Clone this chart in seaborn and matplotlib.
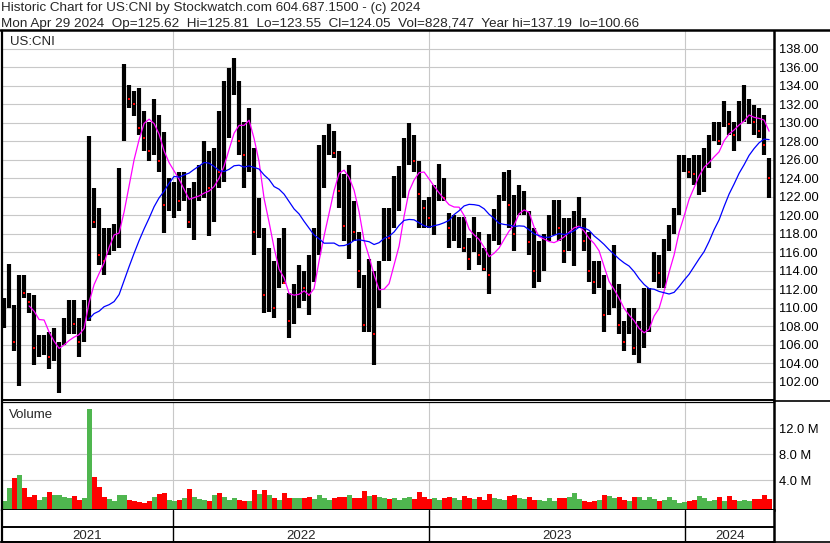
import numpy as np
import pandas as pd
import matplotlib
matplotlib.use("Agg")
import matplotlib.pyplot as plt
from matplotlib.lines import Line2D
import seaborn as sns

#**************************************#
        # data
#**************************************#
# one bar per week, US:CNI price in USD
high = [111.0, 114.7, 110.3, 113.5, 113.5, 111.6, 111.4, 107.0, 107.0, 107.4,
        107.8, 106.3, 108.9, 110.8, 110.8, 108.9, 110.8, 128.5, 122.9, 120.8,
        118.6, 118.6, 119.0, 125.1, 136.3, 134.1, 133.4, 133.7, 131.2, 130.1,
        132.5, 130.8, 129.0, 124.0, 123.6, 124.7, 124.7, 122.9, 123.6, 125.4,
        128.0, 126.9, 127.2, 131.3, 134.5, 135.9, 137.0, 134.5, 130.1, 131.6,
        127.2, 121.8, 118.6, 116.4, 115.0, 117.5, 118.6, 111.6, 112.5, 114.6,
        113.9, 115.7, 118.6, 127.6, 128.7, 129.8, 129.1, 126.9, 124.4, 125.4,
        121.5, 118.2, 113.5, 115.3, 113.9, 115.0, 120.8, 120.8, 124.2, 125.3,
        128.3, 129.9, 128.7, 125.8, 121.6, 122.0, 123.3, 125.5, 124.0, 120.2,
        120.0, 119.8, 119.8, 117.5, 119.8, 118.2, 116.4, 118.0, 120.6, 122.2,
        124.7, 124.9, 122.2, 123.3, 122.6, 120.4, 118.6, 117.2, 117.9, 120.0,
        121.6, 121.6, 119.7, 119.7, 120.4, 122.0, 119.7, 118.2, 115.0, 115.0,
        113.5, 111.9, 116.8, 112.5, 108.5, 109.9, 109.9, 108.5, 112.1, 112.1,
        116.0, 115.7, 117.4, 118.9, 120.8, 126.5, 126.5, 126.2, 126.5, 126.5,
        127.2, 128.7, 130.1, 130.1, 132.3, 131.2, 130.1, 132.3, 134.1, 132.6,
        131.9, 131.6, 130.8, 126.2]
low = [107.8, 110.0, 105.3, 101.5, 111.0, 109.4, 103.8, 104.6, 104.9, 103.3,
       104.2, 100.8, 106.0, 107.1, 107.1, 104.7, 106.3, 108.5, 118.6, 114.6,
       113.5, 115.7, 116.1, 116.4, 128.0, 131.6, 130.7, 128.7, 126.9, 125.8,
       126.5, 124.7, 118.1, 120.4, 119.7, 120.4, 121.5, 118.6, 117.3, 121.5,
       121.8, 117.7, 119.3, 122.9, 123.6, 128.3, 133.0, 126.5, 122.9, 124.7,
       115.7, 117.5, 109.4, 109.5, 108.9, 112.1, 112.5, 106.7, 108.2, 109.9,
       110.7, 109.2, 112.8, 115.7, 122.9, 126.5, 126.2, 120.8, 117.2, 115.3,
       117.2, 112.1, 107.4, 107.4, 103.8, 109.9, 115.0, 115.0, 118.6, 120.4,
       121.8, 125.4, 124.7, 118.6, 118.6, 118.6, 117.8, 121.5, 121.5, 116.4,
       117.2, 116.4, 116.0, 114.1, 116.0, 114.6, 113.9, 111.5, 117.2, 116.8,
       121.5, 118.6, 116.1, 120.0, 120.0, 115.7, 112.1, 112.8, 113.9, 117.2,
       117.8, 117.2, 114.8, 116.1, 114.5, 118.6, 116.1, 112.8, 111.5, 112.1,
       107.4, 109.2, 110.0, 107.1, 105.3, 107.1, 104.9, 104.0, 105.6, 107.4,
       112.8, 112.1, 112.1, 116.1, 117.9, 120.0, 124.7, 124.0, 123.3, 122.2,
       122.5, 125.1, 128.0, 127.6, 129.5, 128.7, 126.9, 128.0, 130.1, 129.8,
       128.7, 128.3, 126.5, 121.8]
close = [109.0, 111.0, 106.3, 112.5, 111.6, 110.6, 105.6, 105.6, 106.0, 104.7,
         105.6, 106.0, 107.8, 108.5, 108.2, 106.3, 109.6, 123.0, 119.3, 115.7,
         115.0, 116.4, 117.7, 124.2, 133.0, 132.6, 132.0, 129.4, 128.3, 126.9,
         130.1, 125.8, 121.1, 121.8, 122.9, 121.5, 123.6, 119.3, 122.2, 122.9,
         124.7, 122.9, 126.5, 124.7, 130.1, 133.7, 135.2, 128.0, 126.5, 128.0,
         118.2, 118.6, 111.4, 112.6, 109.9, 114.1, 112.6, 108.5, 110.3, 113.2,
         112.1, 111.4, 116.8, 126.5, 126.5, 128.0, 126.7, 122.6, 118.8, 121.8,
         118.2, 113.9, 108.1, 112.1, 107.1, 112.1, 118.6, 117.5, 120.4, 124.2,
         126.5, 128.3, 125.8, 122.3, 120.8, 119.7, 121.8, 124.0, 121.8, 118.6,
         119.3, 119.6, 116.4, 115.2, 118.0, 115.7, 114.2, 113.5, 118.6, 118.6,
         123.6, 121.1, 118.0, 120.9, 121.1, 117.1, 113.9, 115.0, 116.4, 119.3,
         120.4, 118.6, 116.1, 118.0, 119.3, 120.4, 117.2, 113.9, 112.8, 113.2,
         109.2, 110.6, 112.1, 108.1, 106.3, 108.8, 105.6, 105.6, 109.2, 110.3,
         115.0, 113.7, 116.8, 117.9, 120.4, 125.0, 125.4, 124.7, 124.4, 125.4,
         126.1, 128.0, 129.1, 128.0, 131.6, 129.8, 128.7, 131.2, 131.6, 132.0,
         130.1, 129.1, 127.6, 124.0]
# average daily volume per week, millions of shares
volume_m = [0.8, 2.8, 4.3, 4.8, 2.8, 1.4, 1.8, 0.9, 1.4, 2.2,
            1.8, 1.8, 1.4, 1.2, 1.6, 1.0, 1.2, 15.0, 4.5, 2.9,
            1.5, 1.1, 0.8, 1.8, 1.7, 1.0, 0.8, 0.6, 0.5, 0.8,
            1.4, 1.9, 2.1, 1.0, 0.8, 1.0, 1.2, 2.7, 1.5, 1.1,
            0.9, 0.8, 1.7, 2.1, 1.5, 1.0, 1.2, 1.0, 0.8, 0.8,
            2.5, 1.9, 2.5, 1.8, 1.3, 1.0, 2.0, 1.2, 1.3, 1.3,
            1.2, 1.4, 1.1, 1.8, 1.3, 1.0, 1.2, 1.5, 1.4, 1.7,
            1.2, 1.3, 2.3, 1.6, 1.8, 1.4, 1.2, 1.1, 1.3, 1.0,
            1.2, 1.4, 1.1, 2.2, 1.5, 1.1, 1.2, 1.0, 1.3, 1.4,
            1.2, 1.0, 1.6, 1.3, 1.1, 1.4, 1.0, 1.9, 1.2, 1.1,
            0.9, 1.6, 1.8, 1.3, 1.1, 1.4, 0.9, 1.0, 0.8, 1.3,
            0.8, 1.2, 1.2, 1.4, 2.0, 1.1, 0.8, 0.6, 0.8, 0.9,
            1.8, 1.6, 1.2, 1.4, 1.0, 0.8, 1.4, 1.4, 1.0, 1.4,
            1.1, 0.8, 0.9, 1.4, 1.0, 0.5, 0.6, 0.8, 0.9, 1.6,
            1.2, 0.8, 1.0, 1.4, 0.8, 1.6, 1.0, 0.8, 0.9, 0.8,
            1.1, 1.1, 1.7, 1.1]

first_day, last_day = "2021-05-06", "2024-04-29"
year_labels = ["2021", "2022", "2023", "2024"]
price_ticks = np.arange(102, 139, 2)
vol_ticks = [4, 8, 12]
vol_tick_labels = ["4.0 M", "8.0 M", "12.0 M"]

header1 = "Historic Chart for US:CNI by Stockwatch.com 604.687.1500 - (c) 2024"
header2 = ("Mon Apr 29 2024  Op=125.62  Hi=125.81  Lo=123.55  Cl=124.05  "
           "Vol=828,747  Year hi=137.19  lo=100.66")

#**************************************#
            # prepare frame
#**************************************#
df = pd.DataFrame({"High": high, "Low": low, "Close": close, "Volume": volume_m})
df["Date"] = pd.date_range(first_day, last_day, periods=len(df))
df["MA_short"] = df["Close"].rolling(6).mean()
df["MA_long"] = df["Close"].rolling(18).mean()
df["Up"] = df["Close"].diff().fillna(0) >= 0

sns.set_theme(style="white")
plt.rcParams["font.family"] = ["Liberation Sans", "DejaVu Sans"]
plt.rcParams["font.size"] = 9

W, H = 830, 543
fig = plt.figure(figsize=(W / 100, H / 100), dpi=100)
fig.patch.set_facecolor("white")

def px_axes(l, t, r, b):
    return fig.add_axes([l / W, 1 - b / H, (r - l) / W, (b - t) / H])

ax_p = px_axes(2, 31, 774, 400)
ax_v = px_axes(2, 402, 774, 510)
ax_s = px_axes(2, 510, 774, 542)

xmin = df["Date"].iloc[0] - pd.Timedelta(days=3)
xmax = df["Date"].iloc[-1] + pd.Timedelta(days=7)
year_starts = [pd.Timestamp(f"{y}-01-01") for y in year_labels[1:]]
grid_kw = dict(color="#c8c8c8", lw=0.8)

#------------------------- price panel -------------------------#
ax_p.vlines(df["Date"], df["Low"], df["High"], color="black", lw=3.0)
down = df[~df["Up"]]
ax_p.plot(down["Date"], down["Close"], "s", color="red", ms=1.6, mew=0)
sns.lineplot(data=df, x="Date", y="MA_short", color="#ff00ff", lw=0.9, ax=ax_p)
sns.lineplot(data=df, x="Date", y="MA_long", color="#0000ff", lw=0.9, ax=ax_p)
ax_p.set_ylim(100.0, 139.9)
ax_p.set_yticks(price_ticks)
ax_p.set_yticklabels([f"{t:.2f}" for t in price_ticks])
ax_p.text(8 / 772, 1 - 14 / 369, "US:CNI", transform=ax_p.transAxes, fontsize=9.5, va="baseline")

#------------------------- volume panel ------------------------#
vol_lo, vol_hi = -0.57, 16.05
ax_v.bar(df["Date"], df["Volume"] - vol_lo, bottom=vol_lo, width=7.1,
         color=np.where(df["Up"], "#4fb64f", "#ff0000"), linewidth=0)
ax_v.set_ylim(vol_lo, vol_hi)
ax_v.set_yticks(vol_ticks)
ax_v.set_yticklabels(vol_tick_labels)
ax_v.text(7 / 772, 1 - 16 / 108, "Volume", transform=ax_v.transAxes, fontsize=9.5, va="baseline")

for ax in (ax_p, ax_v):
    ax.set_xlim(xmin, xmax)
    ax.set_xticks(year_starts)
    ax.grid(True, **grid_kw)
    ax.set_axisbelow(True)
    ax.yaxis.tick_right()
    ax.tick_params(axis="y", length=0, pad=3.6, labelsize=9.3, labelcolor="black")
    ax.tick_params(axis="x", length=0, labelbottom=False)
    ax.set_xlabel("")
    ax.set_ylabel("")
    for s in ax.spines.values():
        s.set_color("black")
    ax.spines["left"].set_linewidth(1.6)
    ax.spines["right"].set_linewidth(1.8)
    ax.spines["bottom"].set_linewidth(1.4)
ax_p.spines["top"].set_visible(False)
ax_v.spines["top"].set_linewidth(0.9)

#------------------------- year strip --------------------------#
ax_s.set_xlim(xmin, xmax)
ax_s.set_ylim(0, 1)
ax_s.axhline(15 / 32, color="black", lw=1.4)
for d in year_starts:
    ax_s.axvline(d, color="black", lw=1.0)
edges = [xmin] + year_starts + [xmax]
for lab, a, b in zip(year_labels, edges[:-1], edges[1:]):
    ax_s.text(a + (b - a) / 2, 3 / 32, lab, ha="center", va="baseline", fontsize=9.5)
ax_s.set_xticks([])
ax_s.set_yticks([])
for s in ax_s.spines.values():
    s.set_color("black")
ax_s.spines["top"].set_visible(False)
ax_s.spines["left"].set_linewidth(1.6)
ax_s.spines["right"].set_linewidth(1.8)
ax_s.spines["bottom"].set_linewidth(1.4)

#------------------------- header ------------------------------#
fig.text(1 / W, 1 - 11 / H, header1, fontsize=9.7, va="baseline")
fig.text(1 / W, 1 - 26.7 / H, header2, fontsize=9.7, va="baseline")
fig.add_artist(Line2D([0, 1], [1 - 30 / H] * 2, color="black", lw=1.8))
fig.add_artist(Line2D([774 / W, 1], [1 - 401 / H] * 2, color="black", lw=1.2))
fig.add_artist(Line2D([0, 1], [1 - 542 / H] * 2, color="black", lw=1.2))

plt.savefig("out.png", dpi=100)
plt.close()
